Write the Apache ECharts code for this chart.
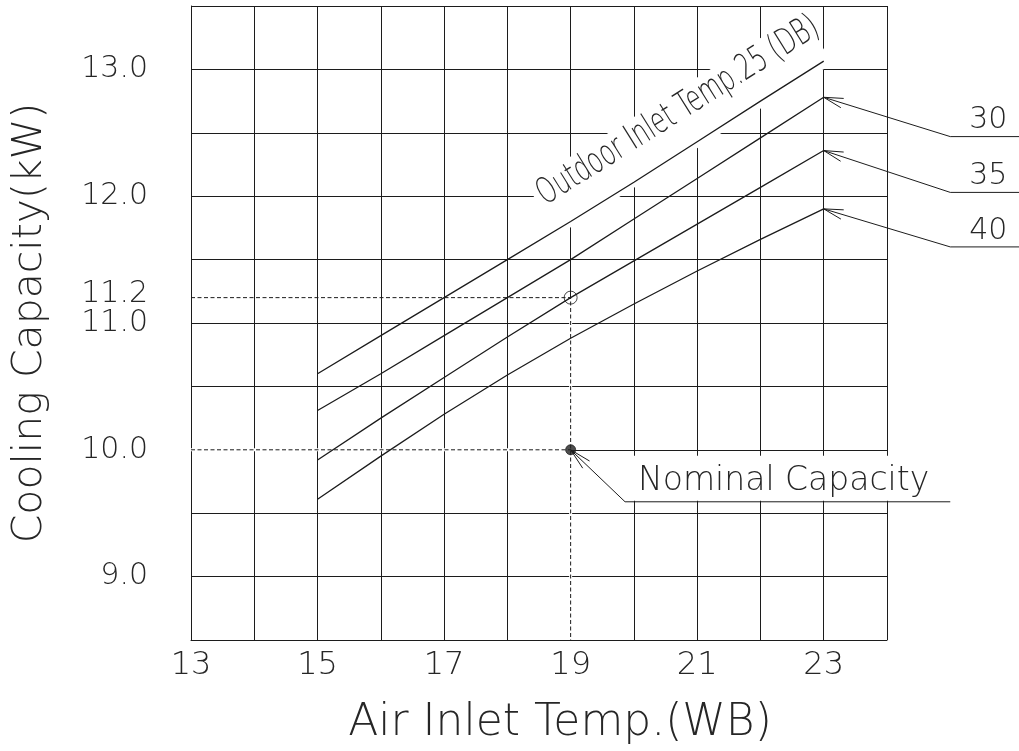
<!DOCTYPE html>
<html><head><meta charset="utf-8">
<script src="https://cdn.jsdelivr.net/npm/echarts@6/dist/echarts.min.js"></script>
<style>html,body{margin:0;padding:0;background:#fff}#c{width:1019px;height:751px}</style>
</head><body><div id="c"></div>
<script>
// ---- data ----
const xTemps = [15, 16, 17, 18, 19, 20, 21, 22, 23];
const cap25 = [10.60, 10.90, 11.20, 11.50, 11.80, 12.11, 12.43, 12.75, 13.065];
const cap30 = [10.31, 10.60, 10.90, 11.20, 11.50, 11.82, 12.14, 12.46, 12.78];
const cap35 = [9.92, 10.25, 10.57, 10.89, 11.20, 11.49, 11.78, 12.07, 12.36];
const cap40 = [9.61, 9.95, 10.28, 10.59, 10.88, 11.15, 11.41, 11.66, 11.90];
const curveNames = ['25', '30', '35', '40'];
const xTickLabels = [13, 15, 17, 19, 21, 23];
const yTickLabels = [9, 10, 11, 12, 13];
const ratedPoint = [19, 11.2];
const nominalPoint = [19, 10.0];
const outdoorLabel = 'Outdoor Inlet Temp.25 (DB)';
const nominalLabel = 'Nominal Capacity';

// ---- layout (annotation anchors in data units) ----
const L = {
  leaderElbowX: 25, leaderEndX: 26.2, labelTextX: 25.6,
  labelLevels: [12.47, 12.03, 11.60],
  nominalElbow: [19.86, 9.59], nominalEndX: 25,
  outdoorText: [20.70, 12.67], outdoorMask: [20.72, 12.57]
};

const LINE = '#1c1c1c', TXT = '#262626';
const FONT = '"DejaVu Sans", sans-serif';
const FW = 200;
const zip = (xs, ys) => xs.map((x, i) => [x, ys[i]]);
const caps = [cap25, cap30, cap35, cap40];

const chart = echarts.init(document.getElementById('c'));

const series = [];
// hide the solid grid line parts that are dashed in the reference
series.push({type: 'line', data: [[ratedPoint[0], 8.5], [ratedPoint[0], ratedPoint[1]]], symbol: 'none',
  lineStyle: {color: '#fff', width: 3}, z: 1, silent: true});
series.push({type: 'line', data: [[13, nominalPoint[1]], [nominalPoint[0], nominalPoint[1]]], symbol: 'none',
  lineStyle: {color: '#fff', width: 3}, z: 1, silent: true});
// dashed reference lines
series.push({type: 'line', data: [[13, ratedPoint[1]], ratedPoint, [ratedPoint[0], 8.5]], symbol: 'none',
  lineStyle: {color: LINE, width: 1, type: [4, 2.5]}, z: 2, silent: true});
series.push({type: 'line', data: [[13, nominalPoint[1]], nominalPoint], symbol: 'none',
  lineStyle: {color: LINE, width: 1, type: [4, 2.5]}, z: 2, silent: true});
// curves
caps.forEach((c, i) => series.push({type: 'line', name: curveNames[i], data: zip(xTemps, c), symbol: 'none',
  lineStyle: {color: LINE, width: 1.3}, z: 3, silent: true}));
// points
series.push({type: 'scatter', data: [ratedPoint], symbol: 'circle', symbolSize: 13, z: 4, silent: true,
  itemStyle: {color: 'rgba(0,0,0,0)', borderColor: LINE, borderWidth: 1}});
series.push({type: 'scatter', data: [nominalPoint], symbol: 'circle', symbolSize: 10, z: 4, silent: true,
  itemStyle: {color: '#222', borderColor: '#222', borderWidth: 1}});

const axisTxt = {color: TXT, fontFamily: FONT, fontWeight: FW};
chart.setOption({
  animation: false,
  backgroundColor: '#fff',
  grid: {left: 191, top: 6, width: 696, height: 636},
  xAxis: {type: 'value', min: 13, max: 24, interval: 1,
    axisLine: {show: true, lineStyle: {color: LINE, width: 1}}, axisTick: {show: false},
    splitLine: {show: true, lineStyle: {color: LINE, width: 1}},
    axisLabel: Object.assign({fontSize: 32, margin: 10,
      formatter: v => xTickLabels.includes(v) ? String(v) : ''}, axisTxt),
    name: 'Air Inlet Temp.(WB)', nameLocation: 'middle', nameGap: 62,
    nameTextStyle: Object.assign({fontSize: 44, padding: [0, 0, 0, 42]}, axisTxt)},
  yAxis: {type: 'value', min: 8.5, max: 13.5, interval: 0.5,
    axisLine: {show: true, lineStyle: {color: LINE, width: 1}}, axisTick: {show: false},
    splitLine: {show: true, lineStyle: {color: LINE, width: 1}},
    axisLabel: Object.assign({fontSize: 30, margin: 43,
      formatter: v => yTickLabels.includes(v) ? v.toFixed(1) : ''}, axisTxt),
    name: 'Cooling Capacity(kW)', nameLocation: 'middle', nameRotate: 90, nameGap: 140,
    nameTextStyle: Object.assign({fontSize: 41}, axisTxt)},
  series: series
});

// ---- annotations positioned through the chart's scales ----
const px = p => chart.convertToPixel({gridIndex: 0}, p);
function arrow(tip, toward, len, hd) {
  const a = Math.atan2(toward[1] - tip[1], toward[0] - tip[0]), h = hd * Math.PI / 180;
  return [[tip[0] + len * Math.cos(a + h), tip[1] + len * Math.sin(a + h)], tip,
          [tip[0] + len * Math.cos(a - h), tip[1] + len * Math.sin(a - h)]];
}
const lineStyle = {stroke: LINE, fill: null, lineWidth: 1};
const g = [];
const rot = 32 * Math.PI / 180;
const mc = px(L.outdoorMask);
g.push({type: 'rect', x: mc[0], y: mc[1], rotation: rot, shape: {x: -162, y: -30, width: 324, height: 60},
  style: {fill: '#fff'}, z: 1, silent: true});
const tc = px(L.outdoorText);
g.push({type: 'text', x: tc[0], y: tc[1], rotation: rot, scaleX: 0.66, z: 5, silent: true,
  style: {text: outdoorLabel, fontSize: 36, fontFamily: FONT, fontWeight: FW, fill: TXT, align: 'center', verticalAlign: 'middle'}});

[cap30, cap35, cap40].forEach((c, i) => {
  const tip = px([xTemps[xTemps.length - 1], c[c.length - 1]]);
  const elbow = px([L.leaderElbowX, L.labelLevels[i]]);
  const end = px([L.leaderEndX, L.labelLevels[i]]);
  g.push({type: 'polyline', shape: {points: [tip, elbow, end]}, style: lineStyle, z: 5, silent: true});
  g.push({type: 'polyline', shape: {points: arrow(tip, elbow, 20, 14)}, style: lineStyle, z: 5, silent: true});
  const lp = px([L.labelTextX, L.labelLevels[i]]);
  g.push({type: 'text', x: lp[0], y: lp[1] - 1, z: 5, silent: true,
    style: {text: curveNames[i + 1], fontSize: 30, fontFamily: FONT, fontWeight: FW, fill: TXT, align: 'center', verticalAlign: 'bottom'}});
});

const np = px(nominalPoint), ne = px(L.nominalElbow), nf = px([L.nominalEndX, L.nominalElbow[1]]);
g.push({type: 'rect', shape: {x: ne[0] + 2, y: ne[1] - 46, width: nf[0] - ne[0] + 2, height: 45}, style: {fill: '#fff'}, z: 1, silent: true});
g.push({type: 'polyline', shape: {points: [np, ne, nf]}, style: lineStyle, z: 5, silent: true});
g.push({type: 'polyline', shape: {points: arrow(np, ne, 22, 13)}, style: lineStyle, z: 5, silent: true});
g.push({type: 'text', x: ne[0] + 13, y: ne[1] - 4, z: 5, silent: true,
  style: {text: nominalLabel, fontSize: 33, fontFamily: FONT, fontWeight: FW, fill: TXT, align: 'left', verticalAlign: 'bottom'}});

const rp = px(ratedPoint), ax = px([13, 8.5]);
g.push({type: 'text', x: ax[0] - 43, y: rp[1] - 3, z: 5, silent: true,
  style: {text: ratedPoint[1].toFixed(1), fontSize: 30, fontFamily: FONT, fontWeight: FW, fill: TXT, align: 'right', verticalAlign: 'middle'}});

chart.setOption({graphic: {elements: g}});
</script>
</body></html>
